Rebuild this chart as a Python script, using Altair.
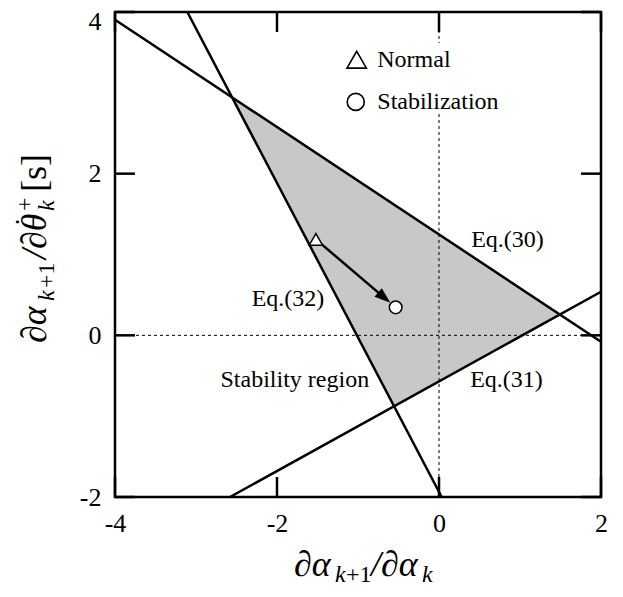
import math
import altair as alt
import pandas as pd

# ---- data ----
line_names = ["Eq.(30)", "Eq.(31)", "Eq.(32)"]
line_x1 = [-4.0, -2.58, -3.107]
line_y1 = [3.905, -2.0, 4.0]
line_x2 = [2.0, 2.0, 0.033]
line_y2 = [-0.08, 0.539, -2.0]

point_names = ["Normal", "Stabilization"]
point_x = [-1.52, -0.535]
point_y = [1.187, 0.346]

label_text = ["Eq.(30)", "Eq.(31)", "Eq.(32)", "Stability region"]
label_x = [0.846, 0.833, -1.864, -1.78]
label_y = [1.178, -0.553, 0.449, -0.553]

legend_x = [-1.016, -1.028]
legend_y = [3.41, 2.888]
legend_text_x = [-0.762, -0.762]

x_ticks = [-4, -2, 0, 2]
y_ticks = [-2, 0, 2, 4]

W, H = 486, 485
FONT = "Liberation Serif"
XMIN, XMAX, YMIN, YMAX = -4, 2, -2, 4

xs = alt.Scale(domain=[XMIN, XMAX], nice=False, zero=False)
ys = alt.Scale(domain=[YMIN, YMAX], nice=False, zero=False)

xaxis = alt.Axis(values=x_ticks, labelExpr="'' + datum.value", labelFont=FONT,
                 labelFontSize=26, labelColor="black", labelPadding=13,
                 labelFlush=False, ticks=False, domain=False, grid=False, title=None)
yaxis = alt.Axis(values=y_ticks, labelExpr="'' + datum.value", labelFont=FONT,
                 labelFontSize=26, labelColor="black", labelPadding=14,
                 labelFlush=False, ticks=False, domain=False, grid=False, title=None,
                 labelOffset={"condition": {"test": "datum.value == 4", "value": 9},
                              "value": 0})


def X(f):
    return alt.X(f, scale=xs, axis=xaxis)


def Y(f):
    return alt.Y(f, scale=ys, axis=yaxis)


def coef(i):
    m = (line_y2[i] - line_y1[i]) / (line_x2[i] - line_x1[i])
    return m, line_y1[i] - m * line_x1[i]


def inter(i, j):
    mi, bi = coef(i)
    mj, bj = coef(j)
    x = (bj - bi) / (mi - mj)
    return x, mi * x + bi


L = inter(0, 2)
R = inter(0, 1)
B = inter(1, 2)
m0, b0 = coef(0)
area_df = pd.DataFrame({
    "x": [L[0], B[0], R[0]],
    "y": [L[1], m0 * B[0] + b0, R[1]],
    "y2": [L[1], B[1], R[1]],
})

area = alt.Chart(area_df).mark_area(color="#c8c8c8", opacity=1).encode(
    x=X("x:Q"), y=Y("y:Q"), y2="y2:Q")

zero_v = alt.Chart(pd.DataFrame({"x": [0]})).mark_rule(
    color="black", strokeWidth=1, strokeDash=[3, 3]).encode(x=X("x:Q"))
zero_h = alt.Chart(pd.DataFrame({"y": [0]})).mark_rule(
    color="black", strokeWidth=1, strokeDash=[3, 3]).encode(y=Y("y:Q"))

lines_df = pd.DataFrame({"name": line_names, "x1": line_x1, "y1": line_y1,
                         "x2": line_x2, "y2": line_y2})
lines = alt.Chart(lines_df).mark_rule(color="black", strokeWidth=2.5).encode(
    x=X("x1:Q"), y=Y("y1:Q"), x2="x2:Q", y2="y2:Q")


# inward ticks on all four sides (20 px long), drawn as line-shaped symbols
def tick_layer(df, path):
    return alt.Chart(df).mark_point(
        shape=path, size=400, filled=False, color="black", strokeWidth=2.5,
        opacity=1, strokeCap="butt").encode(x=X("x:Q"), y=Y("y:Q"))


tick_layers = [
    tick_layer(pd.DataFrame({"x": x_ticks, "y": [YMIN] * len(x_ticks)}), "M0,0L0,-2"),
    tick_layer(pd.DataFrame({"x": x_ticks, "y": [YMAX] * len(x_ticks)}), "M0,0L0,2"),
    tick_layer(pd.DataFrame({"x": [XMIN] * len(y_ticks), "y": y_ticks}), "M0,0L2,0"),
    tick_layer(pd.DataFrame({"x": [XMAX] * len(y_ticks), "y": y_ticks}), "M0,0L-2,0"),
]

# arrow from Normal to Stabilization
pxu, pyu = W / (XMAX - XMIN), H / (YMAX - YMIN)
dxp = (point_x[1] - point_x[0]) * pxu
dyp = (point_y[1] - point_y[0]) * pyu
Lp = math.hypot(dxp, dyp)
f = 1 - 15.0 / Lp
hx = point_x[0] + f * (point_x[1] - point_x[0])
hy = point_y[0] + f * (point_y[1] - point_y[0])
ang = math.degrees(math.atan2(-dyp, dxp))
arrow_df = pd.DataFrame({"x": [point_x[0]], "y": [point_y[0]], "x2": [hx], "y2": [hy]})
arrow = alt.Chart(arrow_df).mark_rule(color="black", strokeWidth=2.5).encode(
    x=X("x:Q"), y=Y("y:Q"), x2="x2:Q", y2="y2:Q")
head = alt.Chart(pd.DataFrame({"x": [hx], "y": [hy]})).mark_point(
    shape="M1,0L-1,-0.7L-1,0.7Z", size=256, angle=ang % 360, filled=True,
    color="black", opacity=1).encode(x=X("x:Q"), y=Y("y:Q"))

tri = alt.Chart(pd.DataFrame({"x": [point_x[0]], "y": [point_y[0]]})).mark_point(
    shape="triangle-up", size=180, filled=True, fill="white", stroke="black",
    strokeWidth=1.5, opacity=1).encode(x=X("x:Q"), y=Y("y:Q"))
circ = alt.Chart(pd.DataFrame({"x": [point_x[1]], "y": [point_y[1]]})).mark_point(
    shape="circle", size=160, filled=True, fill="white", stroke="black",
    strokeWidth=1.5, opacity=1).encode(x=X("x:Q"), y=Y("y:Q"))

labels = alt.Chart(pd.DataFrame({"t": label_text, "x": label_x, "y": label_y})).mark_text(
    font=FONT, fontSize=24, color="black", align="center", baseline="middle").encode(
    x=X("x:Q"), y=Y("y:Q"), text="t:N")

# legend
legend_box = alt.Chart(pd.DataFrame({"a": [0]})).mark_rect(color="white", opacity=1).encode(
    x=alt.value(226), x2=alt.value(400), y=alt.value(31), y2=alt.value(101))
leg_tri = alt.Chart(pd.DataFrame({"x": [legend_x[0]], "y": [legend_y[0]]})).mark_point(
    shape="triangle-up", size=380, filled=False, color="black", strokeWidth=1.6,
    opacity=1).encode(x=X("x:Q"), y=Y("y:Q"))
leg_circ = alt.Chart(pd.DataFrame({"x": [legend_x[1]], "y": [legend_y[1]]})).mark_point(
    shape="circle", size=290, filled=False, color="black", strokeWidth=1.6,
    opacity=1).encode(x=X("x:Q"), y=Y("y:Q"))
leg_text = alt.Chart(pd.DataFrame({"t": point_names, "x": legend_text_x, "y": legend_y})).mark_text(
    font=FONT, fontSize=24, color="black", align="left", baseline="middle").encode(
    x=X("x:Q"), y=Y("y:Q"), text="t:N")


# axis titles built from pieces (math with sub/superscripts)
def piece(txt, px, py, size, style="italic", angle=0):
    return alt.Chart(pd.DataFrame({"a": [0]})).mark_text(
        text=txt, font=FONT, fontSize=size, fontStyle=style, color="black",
        align="left", baseline="alphabetic", angle=angle).encode(
        x=alt.value(px), y=alt.value(py))


MS, SS = 36, 24
x_title = [
    piece("∂α", 179, 564, MS),
    piece("k", 220, 570, SS),
    piece("+1", 231, 570, SS, "normal"),
    piece("/∂α", 256, 564, MS),
    piece("k", 307, 570, SS),
]
y_title = [
    piece("∂α", -69, 331, MS, angle=270),
    piece("k", -61, 289, SS, angle=270),
    piece("+1", -61, 276, SS, "normal", 270),
    piece("/∂θ", -69, 247, MS, angle=270),
    piece("˙", -79, 215, 30, "normal", 270),
    piece("k", -61, 199, SS, angle=270),
    piece("+", -83, 199, SS, "normal", 270),
    piece("[s]", -69, 180, MS, "normal", 270),
]

chart = alt.layer(
    area, zero_v, zero_h, lines, *tick_layers,
    arrow, head, tri, circ, labels, legend_box, leg_tri, leg_circ, leg_text,
    *x_title, *y_title,
).properties(
    width=W, height=H, background="white",
    autosize=alt.AutoSizeParams(type="none"),
    padding={"left": 107, "top": 4, "right": 10, "bottom": 90},
).configure_view(stroke="black", strokeWidth=2.5).configure_axis(labelFont=FONT)

chart.save("out.html", embed_options={"renderer": "svg", "actions": False})
